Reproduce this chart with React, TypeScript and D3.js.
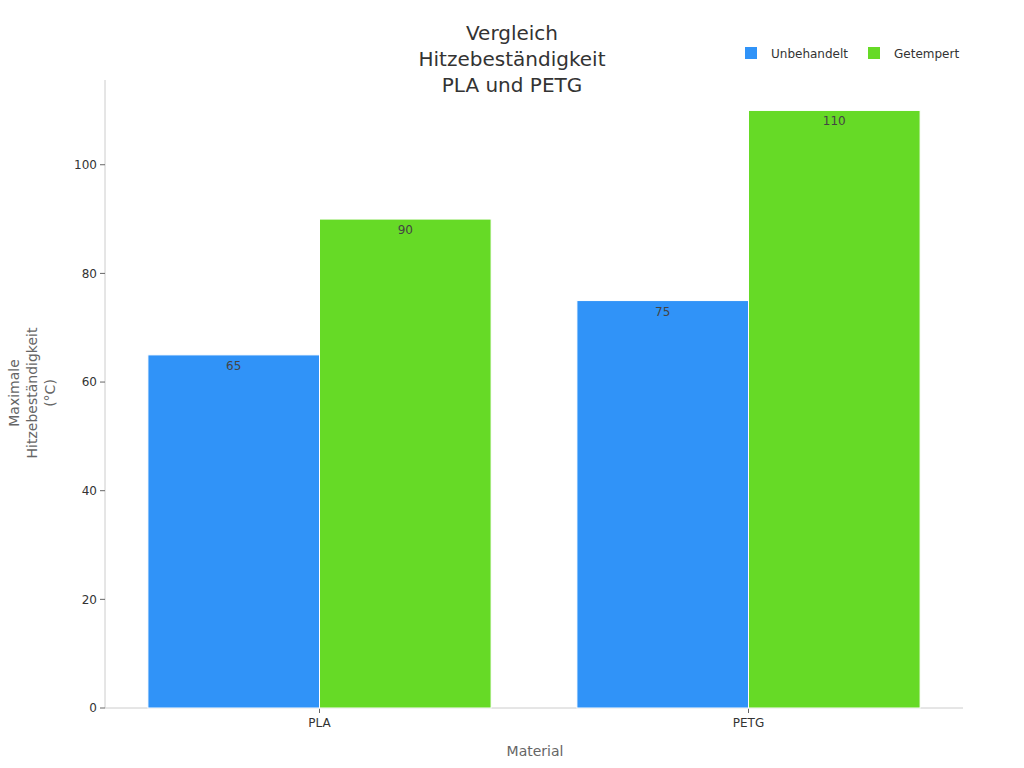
import React from "react";
import * as d3 from "d3";

const categories = ["PLA", "PETG"];
const seriesNames = ["Unbehandelt", "Getempert"];
const unbehandelt = [65, 75];
const getempert = [90, 110];
const yTicks = [0, 20, 40, 60, 80, 100];
const colors = ["#3093F8", "#66DA26"];
const titleLines = ["Vergleich", "Hitzebeständigkeit", "PLA und PETG"];
const yLabelLines = ["Maximale", "Hitzebeständigkeit", "(°C)"];

export default function App() {
  const W = 1024, H = 768;
  const left = 105, right = 963, top = 80, bottom = 708;
  const font = "DejaVu Sans, sans-serif";
  const x = d3.scaleBand<string>().domain(categories).range([left, right]).paddingInner(0).paddingOuter(0);
  const inner = d3.scaleBand<string>().domain(seriesNames).range([0, x.bandwidth()]).paddingOuter(0.25).paddingInner(0);
  const y = d3.scaleLinear().domain([0, 115.6]).range([bottom, top]);
  const series = [unbehandelt, getempert];

  return (
    <svg width={W} height={H} style={{ position: "absolute", left: 0, top: 0 }} fontFamily={font}>
      <rect width={W} height={H} fill="#fff" />
      {titleLines.map((t, i) => (
        <text key={t} x={512} y={40 + i * 26} textAnchor="middle" fontSize={20} fill="#333">{t}</text>
      ))}
      {seriesNames.map((s, i) => {
        const lx = [745, 868][i];
        return (
          <g key={s}>
            <rect x={lx} y={47} width={12} height={12} fill={colors[i]} />
            <text x={lx + 26} y={57.5} fontSize={12} fill="#333">{s}</text>
          </g>
        );
      })}
      <line x1={left} x2={left} y1={top} y2={bottom} stroke="#ccc" />
      <line x1={left} x2={right} y1={bottom} y2={bottom} stroke="#ccc" />
      {yTicks.map((t) => (
        <g key={t}>
          <line x1={left - 5} x2={left} y1={y(t)} y2={y(t)} stroke="#666" />
          <text x={left - 8} y={y(t)} dy="0.35em" textAnchor="end" fontSize={12} fill="#333">{t}</text>
        </g>
      ))}
      {categories.map((c) => {
        const cx = (x(c) as number) + x.bandwidth() / 2;
        return (
          <g key={c}>
            <line x1={cx} x2={cx} y1={bottom} y2={bottom + 5} stroke="#666" />
            <text x={cx} y={bottom + 19} textAnchor="middle" fontSize={12} fill="#333">{c}</text>
          </g>
        );
      })}
      {categories.map((c, ci) =>
        seriesNames.map((s, si) => {
          const v = series[si][ci];
          const bx = (x(c) as number) + (inner(s) as number);
          return (
            <g key={c + s}>
              <rect x={bx} y={y(v)} width={inner.bandwidth()} height={bottom - y(v)} fill={colors[si]} stroke="#fff" strokeWidth={1} />
              <text x={bx + inner.bandwidth() / 2} y={y(v) + 15} textAnchor="middle" fontSize={12} fill="#444">{v}</text>
            </g>
          );
        })
      )}
      <text x={535} y={756} textAnchor="middle" fontSize={14} fill="#666">Material</text>
      <g transform="translate(0,393) rotate(-90)">
        {yLabelLines.map((t, i) => (
          <text key={t} x={0} y={19 + i * 18} textAnchor="middle" fontSize={14} fill="#666">{t}</text>
        ))}
      </g>
    </svg>
  );
}
